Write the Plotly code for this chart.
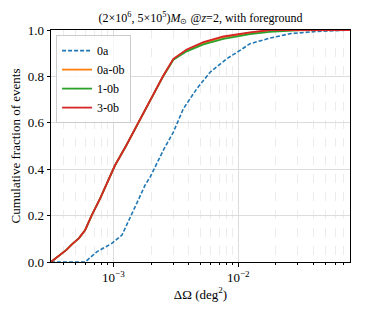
import plotly.graph_objects as go

# ---- data ----
x_red = [3.16e-4, 3.45e-4, 3.75e-4, 4.2e-4, 4.65e-4, 5.3e-4, 5.94e-4, 6.71e-4, 7.83e-4, 9.42e-4,
         1.03e-3, 1.26e-3, 1.58e-3, 1.97e-3, 2.25e-3, 2.51e-3, 3.02e-3, 3.86e-3, 5.25e-3,
         7.59e-3, 1.24e-2, 1.78e-2, 7.83e-2]
y_red = [0.0, 0.016, 0.03, 0.052, 0.076, 0.103, 0.138, 0.202, 0.274, 0.367,
         0.417, 0.50, 0.60, 0.70, 0.76, 0.804, 0.876, 0.916, 0.948,
         0.972, 0.990, 1.0, 1.0]

x_green = x_red[:-1] + [3.16e-2, 7.83e-2]
y_green = [0.0, 0.016, 0.03, 0.052, 0.076, 0.103, 0.138, 0.202, 0.274, 0.367,
           0.417, 0.50, 0.60, 0.70, 0.758, 0.802, 0.872, 0.908, 0.938,
           0.962, 0.982, 0.992, 1.0, 1.0]

x_orange = x_red
y_orange = [0.0, 0.016, 0.03, 0.052, 0.076, 0.103, 0.138, 0.202, 0.274, 0.367,
            0.417, 0.50, 0.60, 0.70, 0.759, 0.803, 0.874, 0.913, 0.945,
            0.969, 0.988, 0.998, 1.0]

x_blue = [3.16e-4, 5.94e-4, 7.36e-4, 9.70e-4, 1.17e-3, 1.36e-3, 1.58e-3, 1.79e-3, 1.97e-3,
          2.51e-3, 3.02e-3, 3.63e-3, 4.65e-3, 5.94e-3, 8.07e-3, 1.03e-2, 1.24e-2, 1.79e-2,
          2.59e-2, 4.24e-2, 7.83e-2]
y_blue = [0.0, 0.0, 0.044, 0.080, 0.116, 0.188, 0.267, 0.331, 0.367,
          0.482, 0.560, 0.661, 0.747, 0.818, 0.876, 0.912, 0.941, 0.965,
          0.984, 0.994, 1.0]

series_names = ["0a", "0a-0b", "1-0b", "3-0b"]
x_major = [1e-3, 1e-2]
x_major_text = ["10<sup>−3</sup>", "10<sup>−2</sup>"]
x_minor = [m * 10.0 ** e for e in (-4, -3, -2) for m in range(2, 10)]
y_ticks = [0.0, 0.2, 0.4, 0.6, 0.8, 1.0]
y_ticktext = ["0.0", "0.2", "0.4", "0.6", "0.8", "1.0"]

FONT = "Liberation Serif, Times New Roman, serif"

# the page body has an 8px margin; the figure is sized so it fills the 365x313 window
W, H = 357, 305

fig = go.Figure()
fig.add_trace(go.Scatter(x=x_blue, y=y_blue, mode="lines", name=series_names[0],
                         line=dict(color="#1f77b4", width=1.6, dash="4px,2px")))
fig.add_trace(go.Scatter(x=x_orange, y=y_orange, mode="lines", name=series_names[1],
                         line=dict(color="#ff7f0e", width=1.8)))
fig.add_trace(go.Scatter(x=x_green, y=y_green, mode="lines", name=series_names[2],
                         line=dict(color="#2ca02c", width=1.8)))
fig.add_trace(go.Scatter(x=x_red, y=y_red, mode="lines", name=series_names[3],
                         line=dict(color="#d62728", width=1.8)))

fig.update_layout(
    width=W, height=H,
    margin=dict(l=43, r=15, t=22, b=51, autoexpand=False),
    paper_bgcolor="white", plot_bgcolor="white",
    font=dict(family=FONT, size=13, color="black"),
    title=dict(text="(2×10<sup>6</sup>, 5×10<sup>5</sup>)<i>M</i><sub>⊙</sub> @<i>z</i>=2, with foreground",
               x=(43 + 342) / 2 / W, xanchor="center", y=1 - 9.5 / H, yanchor="middle",
               yref="container", font=dict(family=FONT, size=12, color="black")),
    showlegend=True,
    legend=dict(x=0.017, y=0.978, xanchor="left", yanchor="top",
                bgcolor="rgba(255,255,255,0.8)", bordercolor="#cccccc", borderwidth=1,
                font=dict(family=FONT, size=12), itemwidth=30, tracegroupgap=0),
)
fig.update_xaxes(
    type="log", range=[-3.5, -1.106], automargin=False,
    tickvals=x_major, ticktext=x_major_text, ticks="outside", ticklen=3.5, tickwidth=0.8,
    tickcolor="black", showline=True, linecolor="black", linewidth=1, mirror=True,
    showgrid=True, gridcolor="#dcdcdc", gridwidth=0.8, zeroline=False,
    minor=dict(tickvals=x_minor, ticks="outside", ticklen=2, tickcolor="black", tickwidth=0.6,
               showgrid=True, gridcolor="#ececec", griddash="dash", gridwidth=0.6),
    title=dict(text="ΔΩ (deg<sup>2</sup>)", font=dict(family=FONT, size=13), standoff=4),
    tickfont=dict(family=FONT, size=13),
)
fig.update_yaxes(
    range=[0, 1], automargin=False, tickvals=y_ticks, ticktext=y_ticktext, ticks="outside", ticklen=3.5,
    tickwidth=0.8, tickcolor="black", showline=True, linecolor="black", linewidth=1, mirror=True,
    showgrid=True, gridcolor="#dcdcdc", gridwidth=0.8, zeroline=False,
    title=dict(text="Cumulative fraction of events", font=dict(family=FONT, size=13), standoff=4),
    tickfont=dict(family=FONT, size=13),
)

fig.write_html("out.html")
